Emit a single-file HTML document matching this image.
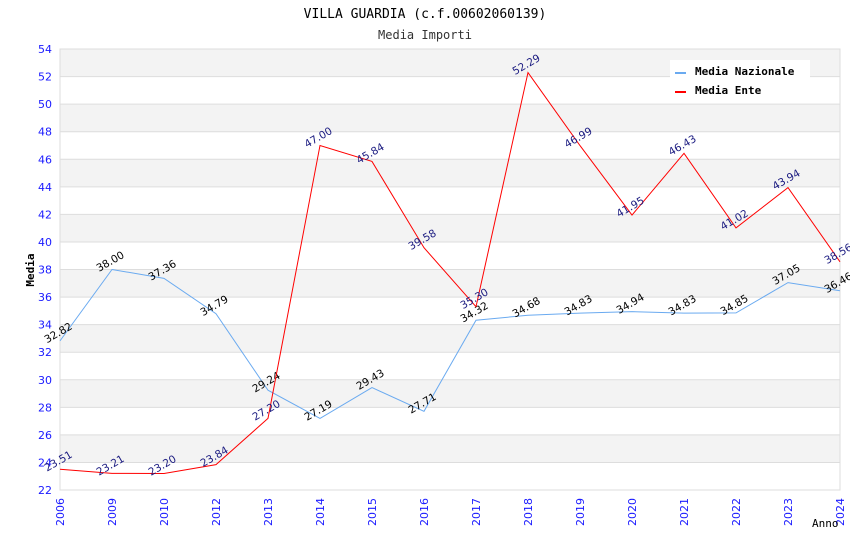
<!DOCTYPE html>
<html><head><meta charset="utf-8"><style>
body{margin:0;background:#fff}
svg text{font-family:"DejaVu Sans","Liberation Sans",sans-serif}
.mono{font-family:"DejaVu Sans Mono","Liberation Mono",monospace}
</style></head><body>
<svg id="chart" width="850" height="550" xmlns="http://www.w3.org/2000/svg">
<text class="mono" x="425" y="18" text-anchor="middle" font-size="13">VILLA GUARDIA (c.f.00602060139)</text>
<text class="mono" x="425" y="39" text-anchor="middle" font-size="12" fill="#333">Media Importi</text>
<g id="bands"></g><g id="grid"></g>
<rect x="60" y="49" width="780" height="441" fill="none" stroke="#ddd"/>
<g id="ticks"></g>
<text class="mono" x="34" y="270" transform="rotate(-90 34 270)" text-anchor="middle" font-size="11" font-weight="bold">Media</text>
<text class="mono" x="812" y="527" font-size="11">Anno</text>
<g id="series"></g>
<g>
<rect x="670" y="60" width="140" height="40" fill="#fff"/>
<line x1="675" y1="73" x2="686" y2="73" stroke="#6aaaf0" stroke-width="2"/>
<text class="mono" x="695" y="75" font-size="11" font-weight="bold">Media Nazionale</text>
<line x1="675" y1="92" x2="686" y2="92" stroke="red" stroke-width="2"/>
<text class="mono" x="695" y="94" font-size="11" font-weight="bold">Media Ente</text>
</g>
</svg>
<script>
const categories=["2006","2009","2010","2012","2013","2014","2015","2016","2017","2018","2019","2020","2021","2022","2023","2024"];
const nazionale=[32.82,38.00,37.36,34.79,29.24,27.19,29.43,27.71,34.32,34.68,34.83,34.94,34.83,34.85,37.05,36.46];
const ente=[23.51,23.21,23.20,23.84,27.20,47.00,45.84,39.58,35.30,52.29,46.99,41.95,46.43,41.02,43.94,38.56];
const yTicks=[22,24,26,28,30,32,34,36,38,40,42,44,46,48,50,52,54];
const NS="http://www.w3.org/2000/svg";
const x0=60,x1=840,yTop=49,yBot=490,yMin=22,yMax=54;
const X=i=>x0+i*(x1-x0)/(categories.length-1);
const Y=v=>yBot-(v-yMin)*(yBot-yTop)/(yMax-yMin);
function mk(t,a,p){const e=document.createElementNS(NS,t);for(const k in a)e.setAttribute(k,a[k]);p.appendChild(e);return e;}
const bands=document.getElementById('bands'),grid=document.getElementById('grid'),ticks=document.getElementById('ticks'),series=document.getElementById('series');
for(let i=0;i<yTicks.length-1;i++){
  if(i%2===1){const r=mk('rect',{x:x0,y:Y(yTicks[i+1]),width:x1-x0,height:Y(yTicks[i])-Y(yTicks[i+1]),fill:'#f3f3f3'},bands);
  
  }
}
yTicks.forEach(v=>{
  const l=mk('line',{x1:x0,x2:x1,y1:Y(v),y2:Y(v),stroke:'#ddd'},grid);
  
  
  const t=mk('text',{x:52,y:Y(v)+4,'text-anchor':'end','font-size':11,fill:'#1a1aff'},ticks);
  t.textContent=v;
  
  
});
categories.forEach((c,i)=>{
  const x=X(i),y=498;
  const t=mk('text',{x:x+4,y:y,'text-anchor':'end','font-size':11,fill:'#1a1aff',transform:`rotate(-90 ${x+4} ${y})`},ticks);
  t.textContent=c;
  
  
});
function draw(vals,color,lab,name){
  const p=mk('polyline',{points:vals.map((v,i)=>X(i)+','+Y(v)).join(' '),fill:'none',stroke:color,'stroke-width':1},series);
  
  
  vals.forEach((v,i)=>{
    const x=X(i),y=Y(v)-5;
    const t=mk('text',{x:x,y:y,'text-anchor':'middle','font-size':10.5,fill:lab,transform:`rotate(-30 ${x} ${y})`},series);
    t.textContent=v.toFixed(2);
    
    
  });
}
draw(nazionale,'#6aaaf0','#000','nazionale');
draw(ente,'red','#1a1a80','ente');
</script>
</body></html>
